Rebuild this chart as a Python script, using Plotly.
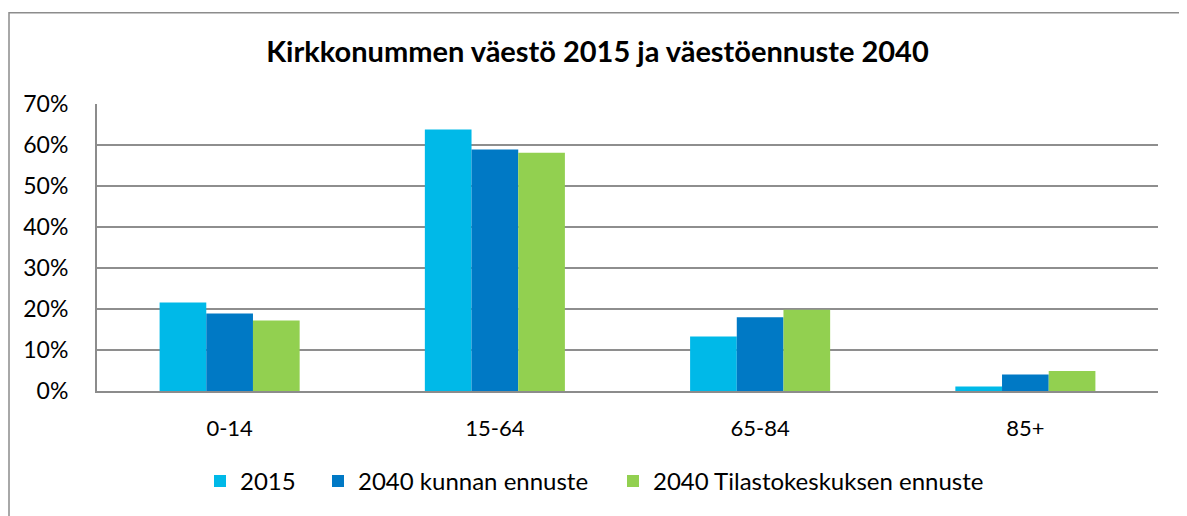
import plotly.graph_objects as go

categories = ["0-14", "15-64", "65-84", "85+"]
series_names = ["2015", "2040 kunnan ennuste", "2040 Tilastokeskuksen ennuste"]
values_2015 = [21.6, 63.8, 13.3, 1.1]
values_2040_kunta = [18.9, 58.9, 18.0, 4.0]
values_2040_tk = [17.2, 58.1, 19.8, 4.9]
tick_vals = [0, 10, 20, 30, 40, 50, 60, 70]
tick_text = ["0%", "10%", "20%", "30%", "40%", "50%", "60%", "70%"]
title_text = "Kirkkonummen väestö 2015 ja väestöennuste 2040"

colors = ["#00B9E8", "#0079C5", "#92D050"]
legend_widths = [73, 250, 340]

OFF = 8  # page body margin
W, H = 1187 - OFF, 516 - OFF
# target plot area in screen pixels: x 97..1158, y 104..393
ml = 97 - OFF
mt = 104 - OFF
mr = W - (1158 - OFF)
mb = H - (393 - OFF)
pw = W - ml - mr
ph = H - mt - mb

FONT = "Lato"

fig = go.Figure()
for name, vals, col, lw in zip(series_names, [values_2015, values_2040_kunta, values_2040_tk], colors, legend_widths):
    fig.add_trace(go.Bar(
        x=categories, y=vals, name=name,
        marker=dict(color=col, line=dict(width=0)),
        legendwidth=lw,
    ))

def px_x(p):
    return (p - OFF - ml) / pw

def px_y(p):
    return (H - mb - (p - OFF)) / ph

fig.update_layout(
    width=W, height=H,
    margin=dict(l=ml, r=mr, t=mt, b=mb),
    paper_bgcolor="white", plot_bgcolor="white",
    barmode="group", bargap=0.472, bargroupgap=0,
    font=dict(family=FONT, size=22, color="black"),
    title=dict(text="<b>" + title_text + "</b>", x=(597.5 - OFF) / W, xanchor="center",
               y=1 - (52 - OFF) / H, yanchor="middle", yref="container",
               font=dict(family=FONT, size=29, color="black")),
    showlegend=True,
    legend=dict(orientation="h", x=px_x(200), xanchor="left",
                y=px_y(484), yanchor="middle",
                font=dict(family=FONT, size=24, color="black"),
                bgcolor="rgba(0,0,0,0)", traceorder="normal"),
    xaxis=dict(showgrid=False, showline=True, linecolor="#8C8C8C", linewidth=2,
               ticks="", ticklabelstandoff=17, tickfont=dict(size=22, family=FONT)),
    yaxis=dict(range=[0, 70], tickvals=tick_vals, ticktext=tick_text,
               showgrid=True, gridcolor="#8E8E8E", gridwidth=2,
               showline=True, linecolor="#8C8C8C", linewidth=2,
               zeroline=False, ticks="", ticklabelstandoff=22,
               tickfont=dict(size=23, family=FONT)),
    shapes=[dict(type="rect", xref="paper", yref="paper",
                 x0=px_x(9), x1=px_x(1186), y0=px_y(540), y1=px_y(12),
                 line=dict(color="#8C8C8C", width=1.5), fillcolor="rgba(0,0,0,0)",
                 layer="below")],
)

fig.write_html("out.html")
